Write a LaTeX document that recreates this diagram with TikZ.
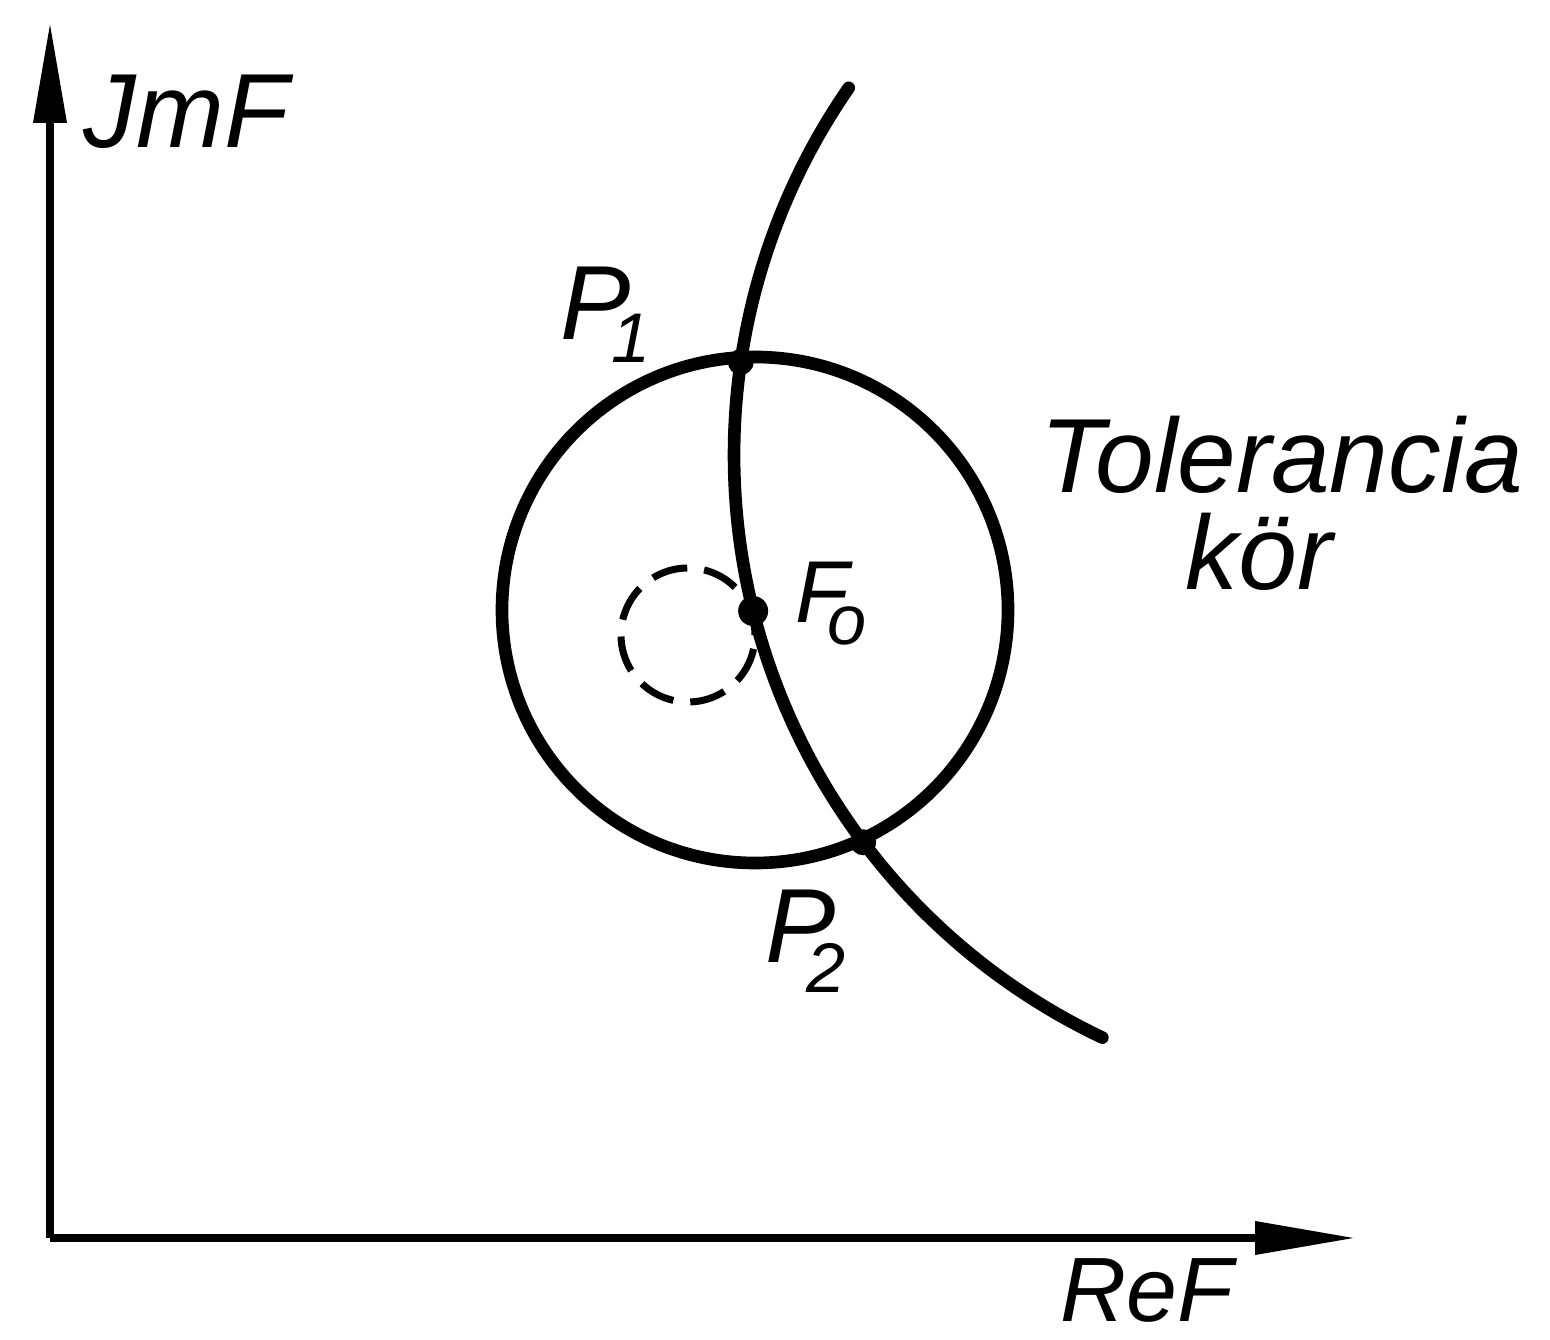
\documentclass[tikz,border=0pt]{standalone}
\usepackage{fontspec}
\setsansfont{Liberation Sans}
\usepackage{tikz}
\usetikzlibrary{arrows.meta,calc}
\newcommand\lowsub[3][0.23cm]{\kern-#2\raisebox{-#1}{\fontsize{20}{20}\selectfont #3}}

\begin{document}
\begin{tikzpicture}[
lbl/.style={anchor=base west,inner sep=0pt,font=\fontsize{30}{34}\selectfont\sffamily\itshape},
axis/.style={line width=2pt,-{Triangle[length=10mm,width=3.2mm]}},
thick curve/.style={line width=3.6pt,line cap=round},
tolcircle/.style={line width=3.6pt},
inner circle/.style={line width=2pt,dash pattern=on 3.6mm off 1.7mm},
pt/.style={circle,fill,inner sep=0pt,minimum size=#1}
]
\useasboundingbox (0,0) rectangle (15.5,13.39);

\coordinate (O)  at (0.50,1.01);
\coordinate (yt) at (0.50,13.16);
\coordinate (xt) at (13.55,1.01);
\coordinate (C)  at (7.55,7.29);
\coordinate (D)  at (6.88,7.04);
\coordinate (K)  at (13.79,8.84);

\draw[axis] (O) -- (yt);
\draw[axis] (O) -- (xt);

\draw[tolcircle] (C) circle (2.53);
\draw[inner circle] (D) circle (0.67);

\draw[thick curve] ($(K)+(145.3:6.45)$) arc[start angle=145.3,end angle=244.6,radius=6.45];

\node[pt=0.26cm] (p1) at ($(K)+(171.7:6.45)$) {};
\node[pt=0.30cm] (fo) at ($(K)+(194.0:6.45)$) {};
\node[pt=0.26cm] (p2) at ($(K)+(216.9:6.45)$) {};

\node[lbl] (jmf) at (0.83,11.91) {JmF};
\node[lbl,font=\fontsize{26}{30}\selectfont\sffamily\itshape] (ref) at (10.60,0.18) {ReF};
\node[lbl] (p1l) at (5.60,9.99) {P\lowsub{0.2cm}{1}};
\node[lbl,font=\fontsize{25}{30}\selectfont\sffamily\itshape] (fol) at (7.95,7.16) {F\lowsub[0.22cm]{0.22cm}{o}};
\node[lbl] (p2l) at (7.65,3.76) {P\lowsub[0.30cm]{0.3cm}{2}};
\node[lbl] (tol) at (10.40,8.46) {Tolerancia};
\node[lbl] (kor) at (11.85,7.49) {kör};
\end{tikzpicture}
\end{document}
